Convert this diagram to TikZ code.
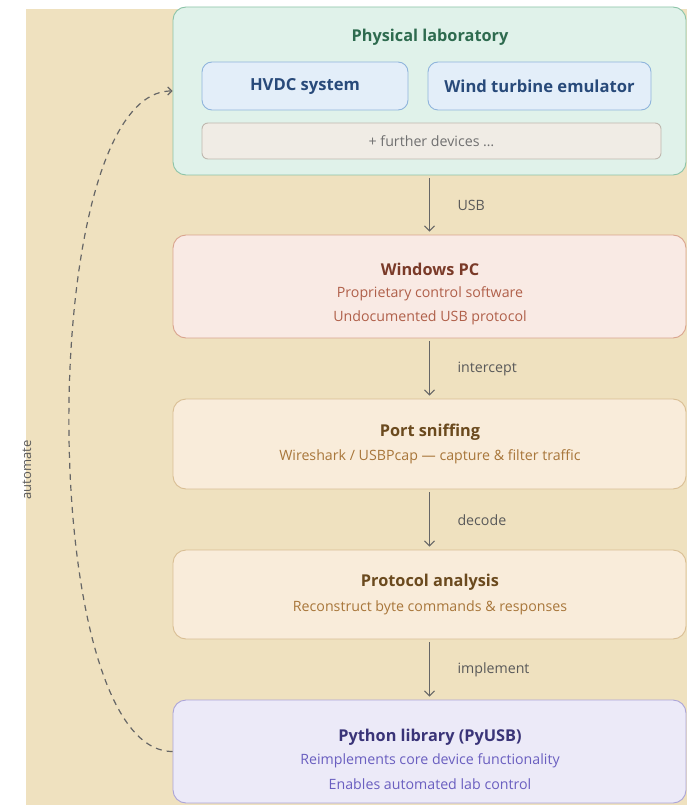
\documentclass[tikz,border=0pt]{standalone}
\usepackage{fontspec}
\setmainfont{Open Sans}
\usetikzlibrary{arrows.meta}
\definecolor{bgsand}{HTML}{EFE1BF}
\definecolor{labfill}{HTML}{E0F2EA}
\definecolor{labdraw}{HTML}{8CC4A8}
\definecolor{labtext}{HTML}{2E6B4F}
\definecolor{devfill}{HTML}{E3EEF9}
\definecolor{devdraw}{HTML}{8FB4DC}
\definecolor{devtext}{HTML}{284A7A}
\definecolor{morefill}{HTML}{F0ECE5}
\definecolor{moredraw}{HTML}{BFB8AE}
\definecolor{moretext}{HTML}{707070}
\definecolor{pcfill}{HTML}{F9EAE4}
\definecolor{pcdraw}{HTML}{D9A48E}
\definecolor{pctitle}{HTML}{7A3A28}
\definecolor{pctext}{HTML}{B0604A}
\definecolor{snfill}{HTML}{F9ECDA}
\definecolor{sndraw}{HTML}{D9BE94}
\definecolor{sntitle}{HTML}{6B4A1E}
\definecolor{sntext}{HTML}{A8763A}
\definecolor{pyfill}{HTML}{ECEAF8}
\definecolor{pydraw}{HTML}{ABA4D8}
\definecolor{pytitle}{HTML}{3A3478}
\definecolor{pytext}{HTML}{6A5FC0}
\definecolor{arrgray}{HTML}{666666}
\definecolor{lblgray}{HTML}{5A5A5A}

\begin{document}
\begin{tikzpicture}[x=1pt,y=-1pt,
  stage/.style={draw, rounded corners=13pt, line width=0.9pt, minimum width=513pt, inner sep=0pt},
  devbox/.style={draw=devdraw, fill=devfill, rounded corners=10pt, line width=0.9pt, minimum height=48pt, inner sep=0pt},
  ttl/.style={font=\fontsize{16.3}{19}\selectfont\bfseries},
  sub/.style={font=\fontsize{14.2}{17}\selectfont},
  flow/.style={draw=arrgray, line width=1pt, -{Straight Barb[length=5pt,width=10pt]}, shorten <=3pt, shorten >=3pt},
  flowlbl/.style={anchor=west, text=lblgray, font=\fontsize{14.2}{17}\selectfont}]
\newcommand\midx{430}
% canvas
\useasboundingbox (0,0) rectangle (687,805);
\fill[bgsand] (26,9) rectangle (687,805);

% physical laboratory
\node[stage, draw=labdraw, fill=labfill, minimum height=168pt] (lab) at (429.5,91) {};
\node[ttl, text=labtext] (labttl) at (\midx,37) {Physical laboratory};
\node[devbox, minimum width=206pt] (hvdc) at (305,86) {};
\node[ttl, text=devtext, font=\fontsize{16.6}{19}\selectfont\bfseries] (hvdcttl) at (305,86) {HVDC system};
\node[devbox, minimum width=223pt] (wind) at (539.5,86) {};
\node[ttl, text=devtext, font=\fontsize{16.6}{19}\selectfont\bfseries] (windttl) at (539.5,86) {Wind turbine emulator};
\node[draw=moredraw, fill=morefill, rounded corners=6pt, line width=0.9pt, minimum width=459pt, minimum height=36pt, inner sep=0pt] (more) at (431.5,141) {};
\node[sub, text=moretext] (morettl) at (431.5,141) {+ further devices …};

% windows pc
\node[stage, draw=pcdraw, fill=pcfill, minimum height=103pt] (pc) at (429.5,286.5) {};
\node[ttl, text=pctitle] (pcttl) at (\midx,269) {Windows PC};
\node[sub, text=pctext] (pcsw) at (\midx,294) {Proprietary control software};
\node[sub, text=pctext] (pcusb) at (\midx,318) {Undocumented USB protocol};

% port sniffing
\node[stage, draw=sndraw, fill=snfill, minimum height=90pt] (sniff) at (429.5,444) {};
\node[ttl, text=sntitle] (sniffttl) at (\midx,432) {Port sniffing};
\node[sub, text=sntext] (sniffsub) at (\midx,457) {Wireshark / USBPcap — capture \& filter traffic};

% protocol analysis
\node[stage, draw=sndraw, fill=snfill, minimum height=89pt] (proto) at (429.5,594.5) {};
\node[ttl, text=sntitle] (protottl) at (\midx,582) {Protocol analysis};
\node[sub, text=sntext] (protosub) at (\midx,608) {Reconstruct byte commands \& responses};

% python library
\node[stage, draw=pydraw, fill=pyfill, minimum height=103pt] (py) at (429.5,751.5) {};
\node[ttl, text=pytitle] (pyttl) at (\midx,737) {Python library (PyUSB)};
\node[sub, text=pytext] (pyre) at (\midx,761) {Reimplements core device functionality};
\node[sub, text=pytext] (pyen) at (\midx,784) {Enables automated lab control};

% arrows
\draw[flow] (lab) -- (pc);
\node[flowlbl] (usb) at (454,205) {USB};
\draw[flow] (pc) -- (sniff);
\node[flowlbl] (icpt) at (454,369) {intercept};
\draw[flow] (sniff) -- (proto);
\node[flowlbl] (dec) at (454,520) {decode};
\draw[flow] (proto) -- (py);
\node[flowlbl] (impl) at (454,670) {implement};

% feedback loop
\draw[arrgray, line width=1.2pt, dash pattern=on 6pt off 5pt, -{Straight Barb[length=4pt,width=8pt]}]
  (py.west) .. controls +(-138,0) and +(-138,0) .. (lab.west);
\node[rotate=90, text=lblgray, font=\fontsize{13}{15}\selectfont] (auto) at (27,470) {automate};
\end{tikzpicture}
\end{document}
